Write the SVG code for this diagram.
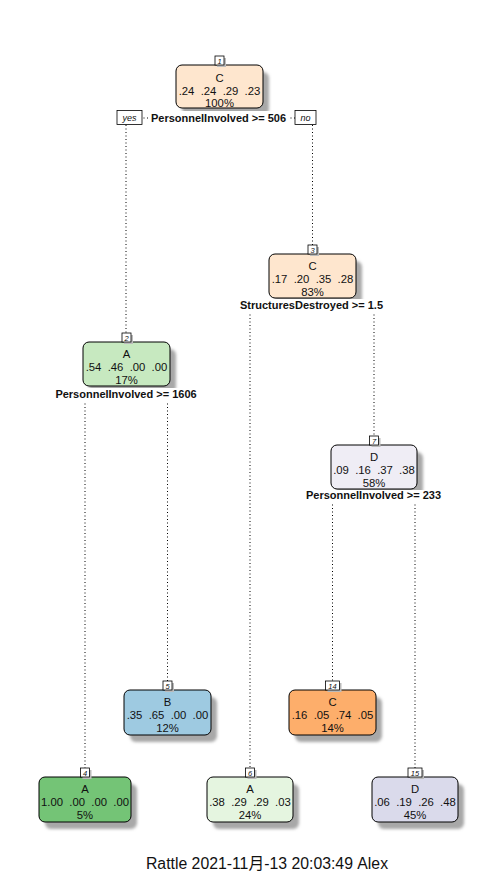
<svg xmlns="http://www.w3.org/2000/svg" width="497" height="875" viewBox="0 0 497 875">
<style>
.box{stroke:#000;stroke-width:1}
.shadow{fill:#a8a8a8;filter:url(#blur)}
.t{font-family:"Liberation Sans",Arial,sans-serif;font-size:11.3px;fill:#111;text-anchor:middle}
.split{font-family:"Liberation Sans",Arial,sans-serif;font-size:11px;font-weight:bold;fill:#111;text-anchor:middle}
.num{font-family:"Liberation Sans",Arial,sans-serif;font-size:7.5px;font-style:italic;fill:#111;text-anchor:middle}
.lab{fill:#fff;stroke:#000;stroke-width:0.8}
.yn{font-family:"Liberation Sans",Arial,sans-serif;font-size:9px;font-style:italic;fill:#111;text-anchor:middle}
.conn{stroke:#000;stroke-width:1;stroke-dasharray:1 2.5;fill:none}
.bg{fill:#fff}
</style>
<defs>
<filter id="blur" x="-20%" y="-20%" width="140%" height="140%"><feGaussianBlur stdDeviation="1.6"/></filter>
</defs>
<rect width="497" height="875" fill="#fff"/>
<g id="connectors">
<path class="conn" d="M126,118 H312.5 M126,125 V333 M312.5,125 V245"/>
<path class="conn" d="M250,305 H374 M250,311 V768 M374,311 V436"/>
<path class="conn" d="M85,394 H167.5 M85,400 V768 M167.5,400 V681"/>
<path class="conn" d="M332.5,495 H415 M332.5,501 V681 M415,501 V768"/>
</g>
<g id="node1">
<rect class="shadow" x="182" y="72" width="87" height="43" rx="6"/>
<rect class="box" x="176" y="65" width="87" height="43" rx="6" fill="#FEE6CE"/>
<text class="t" x="219.5" y="82">C</text>
<text class="t" x="219.5" y="95" xml:space="preserve">.24  .24  .29  .23</text>
<text class="t" x="219.5" y="107">100%</text>
<rect x="217" y="58" width="9" height="9" fill="#bbb"/>
<rect class="lab" x="215" y="56" width="9" height="9"/>
<text class="num" x="219.5" y="63.5">1</text>
<rect class="bg" x="148" y="111" width="142" height="14"/>
<text class="split" x="218.5" y="122">PersonnelInvolved &gt;= 506</text>
<rect class="lab" x="117" y="110.5" width="25" height="14"/>
<text class="yn" x="129.5" y="121">yes</text>
<rect class="lab" x="295" y="110.5" width="21" height="14"/>
<text class="yn" x="305.5" y="121">no</text>
</g>
<g id="node3">
<rect class="shadow" x="275" y="261" width="87" height="44" rx="6"/>
<rect class="box" x="269" y="254" width="87" height="44" rx="6" fill="#FEE6CE"/>
<text class="t" x="312.5" y="270">C</text>
<text class="t" x="312.5" y="283" xml:space="preserve">.17  .20  .35  .28</text>
<text class="t" x="312.5" y="296">83%</text>
<rect x="310" y="247" width="9" height="9" fill="#bbb"/>
<rect class="lab" x="308" y="245" width="9" height="9"/>
<text class="num" x="312.5" y="252.5">3</text>
<rect class="bg" x="238" y="299" width="149" height="13"/>
<text class="split" x="311.5" y="309">StructuresDestroyed &gt;= 1.5</text>
</g>
<g id="node2">
<rect class="shadow" x="89" y="349" width="87" height="44" rx="6"/>
<rect class="box" x="83" y="342" width="87" height="44" rx="6" fill="#C7E9C0"/>
<text class="t" x="126.5" y="358">A</text>
<text class="t" x="126.5" y="371" xml:space="preserve">.54  .46  .00  .00</text>
<text class="t" x="126.5" y="384">17%</text>
<rect x="124" y="335" width="9" height="9" fill="#bbb"/>
<rect class="lab" x="122" y="333" width="9" height="9"/>
<text class="num" x="126.5" y="340.5">2</text>
<rect class="bg" x="51" y="388" width="150" height="13"/>
<text class="split" x="126" y="398">PersonnelInvolved &gt;= 1606</text>
</g>
<g id="node7">
<rect class="shadow" x="337" y="452" width="86" height="44" rx="6"/>
<rect class="box" x="331" y="445" width="86" height="44" rx="6" fill="#EFEDF5"/>
<text class="t" x="374" y="461">D</text>
<text class="t" x="374" y="474" xml:space="preserve">.09  .16  .37  .38</text>
<text class="t" x="374" y="487">58%</text>
<rect x="371.5" y="438" width="9" height="9" fill="#bbb"/>
<rect class="lab" x="369.5" y="436" width="9" height="9"/>
<text class="num" x="374" y="443.5">7</text>
<rect class="bg" x="302" y="490" width="143" height="12"/>
<text class="split" x="373.5" y="499">PersonnelInvolved &gt;= 233</text>
</g>
<g id="node5">
<rect class="shadow" x="130" y="697" width="87" height="45" rx="6"/>
<rect class="box" x="124" y="690" width="87" height="45" rx="6" fill="#9ECAE1"/>
<text class="t" x="167.5" y="706">B</text>
<text class="t" x="167.5" y="719" xml:space="preserve">.35  .65  .00  .00</text>
<text class="t" x="167.5" y="732">12%</text>
<rect x="165" y="683" width="9" height="9" fill="#bbb"/>
<rect class="lab" x="163" y="681" width="9" height="9"/>
<text class="num" x="167.5" y="688.5">5</text>
</g>
<g id="node14">
<rect class="shadow" x="295" y="697" width="87" height="45" rx="6"/>
<rect class="box" x="289" y="690" width="87" height="45" rx="6" fill="#FDAE6B"/>
<text class="t" x="332.5" y="706">C</text>
<text class="t" x="332.5" y="719" xml:space="preserve">.16  .05  .74  .05</text>
<text class="t" x="332.5" y="732">14%</text>
<rect x="327.5" y="683" width="14" height="9" fill="#bbb"/>
<rect class="lab" x="325.5" y="681" width="14" height="9"/>
<text class="num" x="332.5" y="688.5">14</text>
</g>
<g id="node4">
<rect class="shadow" x="45" y="784" width="92" height="45" rx="6"/>
<rect class="box" x="39" y="777" width="92" height="45" rx="6" fill="#74C476"/>
<text class="t" x="85" y="793">A</text>
<text class="t" x="85" y="806" xml:space="preserve">1.00  .00  .00  .00</text>
<text class="t" x="85" y="819">5%</text>
<rect x="82.5" y="770" width="9" height="9" fill="#bbb"/>
<rect class="lab" x="80.5" y="768" width="9" height="9"/>
<text class="num" x="85" y="775.5">4</text>
</g>
<g id="node6">
<rect class="shadow" x="213" y="784" width="86" height="45" rx="6"/>
<rect class="box" x="207" y="777" width="86" height="45" rx="6" fill="#E5F5E0"/>
<text class="t" x="250" y="793">A</text>
<text class="t" x="250" y="806" xml:space="preserve">.38  .29  .29  .03</text>
<text class="t" x="250" y="819">24%</text>
<rect x="247.5" y="770" width="9" height="9" fill="#bbb"/>
<rect class="lab" x="245.5" y="768" width="9" height="9"/>
<text class="num" x="250" y="775.5">6</text>
</g>
<g id="node15">
<rect class="shadow" x="378" y="784" width="86" height="45" rx="6"/>
<rect class="box" x="372" y="777" width="86" height="45" rx="6" fill="#DADAEB"/>
<text class="t" x="415" y="793">D</text>
<text class="t" x="415" y="806" xml:space="preserve">.06  .19  .26  .48</text>
<text class="t" x="415" y="819">45%</text>
<rect x="410" y="770" width="14" height="9" fill="#bbb"/>
<rect class="lab" x="408" y="768" width="14" height="9"/>
<text class="num" x="415" y="775.5">15</text>
</g>
<text x="267" y="869" font-family="'Liberation Sans','Noto Sans CJK SC',sans-serif" font-size="15.8" fill="#111" text-anchor="middle">Rattle 2021-11月-13 20:03:49 Alex</text>
</svg>
